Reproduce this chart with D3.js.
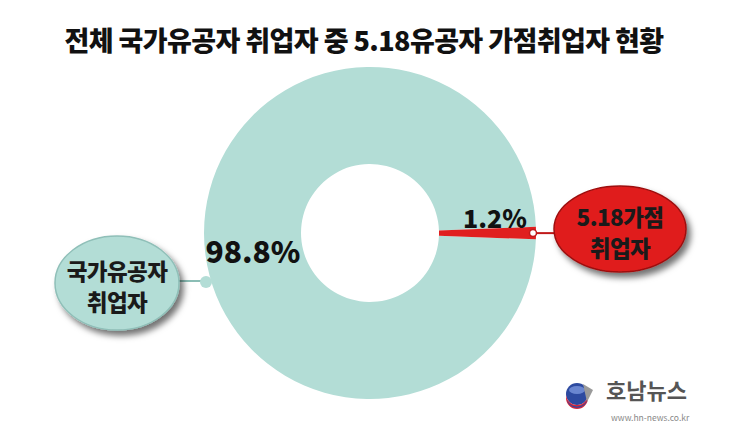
<!DOCTYPE html>
<html><head><meta charset="utf-8">
<script src="https://cdn.jsdelivr.net/npm/d3@7"></script>
<style>body{margin:0;background:#fff}svg{display:block}</style>
</head><body>
<script>
const title = "전체 국가유공자 취업자 중 5.18유공자 가점취업자 현황";
const categories = ["국가유공자 취업자", "5.18가점 취업자"];
const values = [98.8, 1.2];
const valueLabels = ["98.8%", "1.2%"];
const calloutLines = [["국가유공자", "취업자"], ["5.18가점", "취업자"]];
const colors = ["#b3ddd6", "#e01f1f"];

const W = 750, H = 422;
const svg = d3.select("body").append("svg").attr("width", W).attr("height", H);
const font = "'Noto Sans CJK KR','Noto Sans',sans-serif";

const defs = svg.append("defs");
const f = defs.append("filter").attr("id","sh").attr("x","-30%").attr("y","-30%").attr("width","160%").attr("height","160%");
f.append("feDropShadow").attr("dx",4).attr("dy",5).attr("stdDeviation",3).attr("flood-color","#000").attr("flood-opacity",0.55);

svg.append("text").attr("x", 364).attr("y", 51).attr("text-anchor","middle")
  .attr("font-family", font).attr("font-weight", 900).attr("font-size", 27)
  .attr("fill","#111").attr("letter-spacing", -0.6).text(title);

const cx = 370, cy = 233, R = 166, r0 = 69;
const deg = Math.PI/180;
const pie = d3.pie().sort(null).startAngle(92.2*deg).endAngle(92.2*deg + 2*Math.PI);
const arcs = pie(values);
const arc = d3.arc().innerRadius(r0).outerRadius(R);
const g = svg.append("g").attr("transform", `translate(${cx},${cy})`);
g.selectAll("path").data(arcs).join("path").attr("d", arc).attr("fill", (d,i)=>colors[i]);

// left connector
const leftY = 281;
svg.append("line").attr("x1",178).attr("x2",204).attr("y1",leftY).attr("y2",leftY)
  .attr("stroke","#8bbdb5").attr("stroke-width",2);
svg.append("circle").attr("cx",206).attr("cy",leftY+1).attr("r",6).attr("fill",colors[0]);

// right connector
const ra = arcs[1];
const mid = (ra.startAngle + ra.endAngle)/2;
const px = cx + Math.sin(mid)*(R-3), py = cy - Math.cos(mid)*(R-3);
svg.append("line").attr("x1",px).attr("x2",557).attr("y1",py).attr("y2",py)
  .attr("stroke","#c0191a").attr("stroke-width",2);
svg.append("circle").attr("cx",px).attr("cy",py).attr("r",3.5).attr("fill","#fff").attr("stroke","#c0191a").attr("stroke-width",1.5);

// callouts
const callouts = [{x:117, y:283, rx:62, ry:47, fill:colors[0], stroke:"#8fbfb8"},
                  {x:620, y:229, rx:66, ry:43, fill:colors[1], stroke:"#9e1010"}];
callouts.forEach((c,i)=>{
  svg.append("ellipse").attr("cx",c.x).attr("cy",c.y).attr("rx",c.rx).attr("ry",c.ry)
    .attr("fill",c.fill).attr("stroke",c.stroke).attr("stroke-width",1.5).attr("filter","url(#sh)");
  calloutLines[i].forEach((t,j)=>{
    svg.append("text").attr("x",c.x).attr("y",c.y - 3 + j*31).attr("text-anchor","middle")
      .attr("font-family",font).attr("font-weight",900).attr("font-size",22.5)
      .attr("fill","#1a1a1a").attr("letter-spacing",-0.6).text(t);
  });
});

// value labels
svg.append("text").attr("x",253).attr("y",263).attr("text-anchor","middle")
  .attr("font-family",font).attr("font-weight",900).attr("font-size",30).attr("fill","#111").text(valueLabels[0]);
svg.append("text").attr("x",495).attr("y",228).attr("text-anchor","middle")
  .attr("font-family",font).attr("font-weight",900).attr("font-size",25).attr("fill","#111").text(valueLabels[1]);

// logo
const lg = svg.append("g").attr("transform","translate(577,394)");
lg.append("circle").attr("r",11).attr("fill","#2d4aa0");
lg.append("path").attr("d","M-11,0 A11,11 0 0 0 11,0 L11,4 A11,11 0 0 1 -11,4Z").attr("fill","#d8263a");
lg.append("path").attr("d","M-10,6 A11,11 0 0 0 10,6 L9,9 A11,11 0 0 1 -9,9Z").attr("fill","#2d4aa0");
lg.append("ellipse").attr("cx",0).attr("cy",-4).attr("rx",8).attr("ry",4).attr("fill","#6a86d0");
lg.append("path").attr("d","M6,-10 L16,-4 L10,8 Z").attr("fill","#9a9a9a");
svg.append("text").attr("x",606).attr("y",399).attr("font-family",font).attr("font-weight",700)
  .attr("font-size",22).attr("fill","#555").text("호남뉴스");
svg.append("text").attr("x",611).attr("y",421).attr("font-family",font)
  .attr("font-size",8.5).attr("fill","#888").text("www.hn-news.co.kr");
</script>
</body></html>
